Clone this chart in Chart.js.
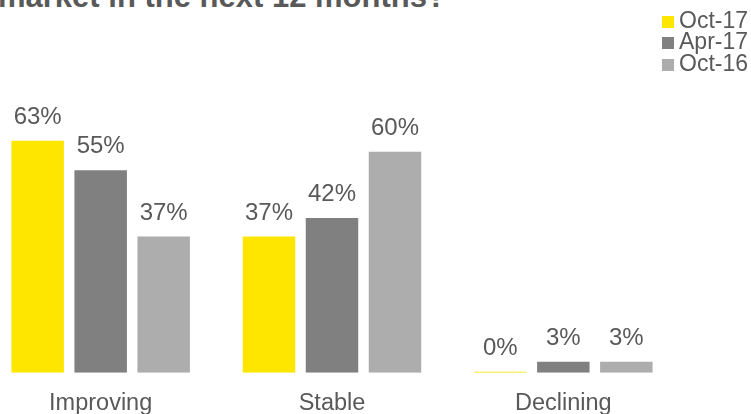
<!DOCTYPE html>
<html>
<head>
<meta charset="utf-8">
<script src="https://cdn.jsdelivr.net/npm/chart.js@4/dist/chart.umd.min.js"></script>
<style>
  html, body { margin: 0; padding: 0; background: #fff; }
  body { width: 751px; height: 414px; position: relative; overflow: hidden; font-family: "Liberation Sans", Arial, sans-serif; }
  .title { position: absolute; left: -2px; top: -18px; font-size: 31px; line-height: 30px; font-weight: bold; color: #595959; white-space: nowrap; }
  .chart-box { position: absolute; left: -15px; top: 0; width: 694px; height: 435px; }
  .legend { position: absolute; left: 662px; top: 9.5px; }
  .legend-row { display: flex; align-items: flex-start; height: 21.5px; }
  .legend-swatch { width: 12px; height: 12px; margin-top: 6px; margin-right: 5px; }
  .legend-text { font-size: 23px; line-height: 21.5px; color: #595959; white-space: nowrap; }
</style>
</head>
<body>
<div class="title">market in the next 12 months?</div>
<div class="chart-box"><canvas id="outlook-chart"></canvas></div>
<div class="legend" id="outlook-legend"></div>
<script>
// Survey answers, percent of respondents per wave
const categories = ['Improving', 'Stable', 'Declining'];
const waves = ['Oct-17', 'Apr-17', 'Oct-16'];
const oct17 = [63, 37, 0];
const apr17 = [55, 42, 3];
const oct16 = [37, 60, 3];
const waveColors = ['#FFE600', '#808080', '#ADADAD'];

const textGray = '#595959';
const fontFamily = '"Liberation Sans", Arial, sans-serif';

// percentage printed above every bar
const valueLabels = {
  id: 'valueLabels',
  afterDatasetsDraw(chart) {
    const ctx = chart.ctx;
    ctx.save();
    ctx.font = `24px ${fontFamily}`;
    ctx.fillStyle = textGray;
    ctx.textAlign = 'center';
    ctx.textBaseline = 'alphabetic';
    chart.data.datasets.forEach((ds, i) => {
      chart.getDatasetMeta(i).data.forEach((bar, j) => {
        ctx.fillText(`${ds.data[j]}%`, bar.x, bar.y - 17);
      });
    });
    ctx.restore();
  },
};

const series = [oct17, apr17, oct16];

new Chart(document.getElementById('outlook-chart'), {
  type: 'bar',
  data: {
    labels: categories,
    datasets: series.map((values, i) => ({
      label: waves[i],
      data: values,
      backgroundColor: waveColors[i],
      borderWidth: 0,
      minBarLength: 1, // keeps the 0% bar visible as a thin line
      categoryPercentage: 0.817,
      barPercentage: 0.833,
    })),
  },
  options: {
    responsive: true,
    maintainAspectRatio: false,
    animation: false,
    layout: { padding: { top: 115, bottom: 0, left: 0, right: 0 } },
    scales: {
      x: {
        grid: { display: false, drawTicks: false },
        border: { display: false },
        ticks: { color: textGray, padding: 17, font: { family: fontFamily, size: 23.5 } },
      },
      y: { display: false, min: 0, max: 70 },
    },
    plugins: {
      legend: { display: false },
      tooltip: { enabled: false },
    },
  },
  plugins: [valueLabels],
});

// legend stacked at the top right
const legendEl = document.getElementById('outlook-legend');
waves.forEach((name, i) => {
  const row = document.createElement('div');
  row.className = 'legend-row';
  row.innerHTML = `<span class="legend-swatch" style="background:${waveColors[i]}"></span><span class="legend-text">${name}</span>`;
  legendEl.appendChild(row);
});
</script>
</body>
</html>
